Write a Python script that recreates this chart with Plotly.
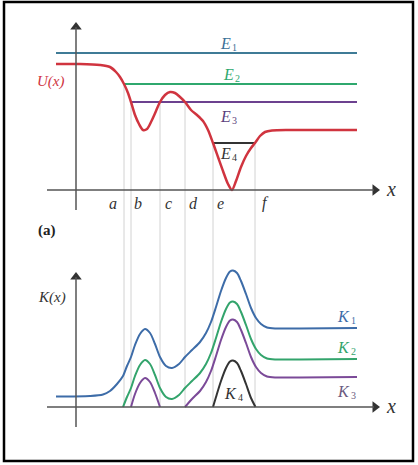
import plotly.graph_objects as go

# ---------------- data ----------------
# Potential energy U(x), top panel
x_U = [-2.0, 0.4, 2.4, 3.4, 4.0, 4.4, 4.8, 5.2, 5.5, 5.9, 6.3, 6.7, 7.1, 7.5, 8.0, 8.4,
       8.9, 9.4, 9.9, 10.4, 10.9, 11.5, 12.1, 12.7, 13.2, 13.7, 14.2, 14.7, 15.2, 15.6,
       16.0, 16.5, 17.0, 17.5, 17.9, 18.4, 18.9, 19.6, 21.4, 28.1]
U = [12.6, 12.6, 12.5, 12.3, 11.8, 11.3, 10.6, 9.7, 8.8, 7.5, 6.6, 6.0, 6.1, 6.8, 7.9, 8.8,
     9.5, 9.8, 9.7, 9.3, 8.8, 8.0, 7.5, 6.9, 6.0, 4.7, 3.3, 1.9, 0.6, 0.0,
     0.9, 2.3, 3.4, 4.2, 4.7, 5.4, 5.8, 5.95, 6.0, 6.0]

# Energy levels and their extents
E_names = ["1", "2", "3", "4"]
E_values = [13.7, 10.6, 8.8, 4.7]
E_start = [-2.0, 4.8, 5.5, 13.7]
E_end = [28.1, 28.1, 28.1, 17.9]

# Turning points a..f
tp_labels = ["a", "b", "c", "d", "e", "f"]
tp_x = [4.8, 5.5, 8.4, 10.9, 13.7, 17.9]
tp_level = [10.6, 8.8, 8.8, 8.8, 4.7, 4.7]
tp_label_x = [3.7, 6.2, 9.2, 11.7, 14.4, 18.9]

# Kinetic energies K(x), bottom panel
x_K1 = [-2.0, 1.4, 2.7, 3.4, 4.1, 4.7, 5.1, 5.5, 5.9, 6.4, 6.9, 7.4, 7.9, 8.4, 9.0, 9.6,
        10.3, 10.9, 11.6, 12.4, 13.0, 13.5, 14.0, 14.5, 15.0, 15.4, 15.7, 16.1, 16.5,
        17.0, 17.5, 18.0, 18.5, 19.1, 20.0, 22.4, 28.1]
K1 = [1.05, 1.1, 1.25, 1.6, 2.3, 3.1, 4.1, 5.0, 6.2, 7.3, 7.8, 7.4, 6.3, 5.0, 4.1, 3.9,
      4.3, 5.0, 5.7, 6.5, 7.4, 8.5, 10.0, 11.6, 12.9, 13.55, 13.65, 13.4, 12.6,
      11.3, 9.9, 8.9, 8.3, 7.95, 7.85, 7.85, 7.9]

x_K2 = [4.7, 5.1, 5.5, 5.9, 6.4, 6.9, 7.4, 7.9, 8.4, 9.0, 9.6, 10.3, 10.9, 11.6, 12.4,
        13.0, 13.5, 14.0, 14.5, 15.0, 15.4, 15.7, 16.1, 16.5, 17.0, 17.5, 18.0, 18.5,
        19.1, 20.0, 22.4, 28.1]
K2 = [0.0, 1.0, 1.9, 3.1, 4.2, 4.7, 4.3, 3.2, 1.9, 1.0, 0.8, 1.2, 1.9, 2.6, 3.4,
      4.3, 5.4, 6.9, 8.5, 9.8, 10.45, 10.55, 10.3, 9.5, 8.2, 6.8, 5.8, 5.2,
      4.85, 4.75, 4.75, 4.8]

x_K3 = [5.5, 5.9, 6.4, 6.9, 7.4, 7.9, 8.4, None,
        10.9, 11.6, 12.4, 13.0, 13.5, 14.0, 14.5, 15.0, 15.4, 15.7, 16.1, 16.5, 17.0,
        17.5, 18.0, 18.5, 19.1, 20.0, 22.4, 28.1]
K3 = [0.0, 1.3, 2.4, 2.9, 2.5, 1.4, 0.0, None,
      0.0, 0.8, 1.6, 2.5, 3.6, 5.1, 6.7, 8.0, 8.65, 8.75, 8.5, 7.7, 6.4,
      5.0, 4.0, 3.4, 3.05, 2.95, 2.95, 3.0]

x_K4 = [13.7, 14.0, 14.5, 15.0, 15.4, 15.7, 16.1, 16.5, 17.0, 17.5, 17.95]
K4 = [0.0, 1.0, 2.6, 3.9, 4.55, 4.65, 4.4, 3.6, 2.3, 0.9, 0.0]

# ---------------- styling ----------------
RED = "#d0343f"
E_colors = ["#3f7b96", "#2fa86e", "#6c418f", "#333333"]
K_colors = ["#3d6ca8", "#33a46c", "#7b4a98", "#333333"]
AXIS = "#555555"
SERIF = "'Liberation Serif', 'DejaVu Serif', serif"
OFF = 21.7          # vertical offset between the two panels (layout)
XR = [-7.6, 34.2]
YR = [-27.5, 19.0]

fig = go.Figure()

shapes = []
# guide lines (behind everything)
for xp, lev in zip(tp_x, tp_level):
    shapes.append(dict(type="line", xref="x", yref="y", x0=xp, x1=xp, y0=lev, y1=-OFF,
                       line=dict(color="#d2d2d2", width=1), layer="below"))

# axis lines
for yref, ytop in (("y", 16.3), ("y2", 13.0)):
    shapes.append(dict(type="line", xref="x", yref=yref, x0=-2.9, x1=29.8, y0=0, y1=0,
                       line=dict(color=AXIS, width=1.5)))
    shapes.append(dict(type="line", xref="x", yref=yref, x0=0, x1=0, y0=-2.0, y1=ytop,
                       line=dict(color=AXIS, width=1.5)))

# energy levels
for ev, xs, xe, col in zip(E_values, E_start, E_end, E_colors):
    fig.add_trace(go.Scatter(x=[xs, xe], y=[ev, ev], mode="lines",
                             line=dict(color=col, width=2), yaxis="y", hoverinfo="skip"))

# potential
fig.add_trace(go.Scatter(x=x_U, y=U, mode="lines",
                         line=dict(color=RED, width=2.5, shape="spline", smoothing=0.8),
                         yaxis="y", hoverinfo="skip"))

# kinetic energies
for xs, ks, col in zip([x_K1, x_K2, x_K3, x_K4], [K1, K2, K3, K4], K_colors):
    fig.add_trace(go.Scatter(x=xs, y=ks, mode="lines", connectgaps=False,
                             line=dict(color=col, width=2, shape="spline", smoothing=0.8),
                             yaxis="y2", hoverinfo="skip"))

# arrow heads
for ya in ("y", "y2"):
    fig.add_trace(go.Scatter(x=[29.9], y=[0], mode="markers", yaxis=ya, hoverinfo="skip",
                             marker=dict(symbol="triangle-right", size=10, color="#333333")))
fig.add_trace(go.Scatter(x=[0], y=[16.3], mode="markers", yaxis="y", hoverinfo="skip",
                         marker=dict(symbol="triangle-up", size=10, color="#333333")))
fig.add_trace(go.Scatter(x=[0], y=[13.0], mode="markers", yaxis="y2", hoverinfo="skip",
                         marker=dict(symbol="triangle-up", size=10, color="#333333")))

ann = []

def label(x, y, text, color, size=15, yref="y", xanchor="center", italic=True):
    return dict(x=x, y=y, xref="x", yref=yref, text=text, showarrow=False,
                font=dict(family=SERIF, size=size, color=color,
                          style="italic" if italic else "normal"),
                xanchor=xanchor, yanchor="middle")

def sub_label(x, y, main, sub, color, yref="y"):
    ann.append(label(x, y, main, color, 16, yref=yref, xanchor="right"))
    ann.append(label(x - 0.35, y - 0.45, sub, color, 10, yref=yref, xanchor="left", italic=False))

# E labels
E_label_pos = [(15.7, 14.7), (16.0, 11.6), (15.7, 7.4), (15.7, 3.7)]
E_label_col = ["#3b6f97", "#2fa86e", "#5b3f7c", "#333333"]
for name, (lx, ly), col in zip(E_names, E_label_pos, E_label_col):
    sub_label(lx, ly, "E", name, col)

ann.append(label(-2.6, 10.9, "U(x)", RED, 15))
for t, lx in zip(tp_labels, tp_label_x):
    ann.append(label(lx, -1.3, t, "#333333", 16))
ann.append(label(30.8, 0.1, "x", "#333333", 20, xanchor="left"))
ann.append(label(30.8, 0.1, "x", "#333333", 20, yref="y2", xanchor="left"))
ann.append(dict(x=-2.9, y=-4.0, xref="x", yref="y", text="(a)", showarrow=False,
                font=dict(family=SERIF, size=15, color="#222222", weight="bold")))

ann.append(label(-2.4, 11.0, "K(x)", "#333333", 15, yref="y2"))
K_label_pos = [(27.6, 9.1), (27.6, 6.0), (27.6, 1.6), (16.3, 1.4)]
K_label_col = ["#3d6ca8", "#33a46c", "#6a5a80", "#333333"]
for i, ((lx, ly), col) in enumerate(zip(K_label_pos, K_label_col)):
    sub_label(lx, ly, "K", str(i + 1), col, yref="y2")

# frame
shapes.append(dict(type="rect", xref="paper", yref="paper",
                   x0=4 / 418, x1=413 / 418, y0=1 - 461 / 465, y1=1 - 2 / 465,
                   line=dict(color="black", width=2.5)))

fig.update_layout(
    width=418, height=465, margin=dict(l=0, r=0, t=0, b=0),
    paper_bgcolor="white", plot_bgcolor="white", showlegend=False,
    xaxis=dict(range=XR, visible=False, domain=[0, 1]),
    yaxis=dict(range=YR, visible=False, domain=[0, 1]),
    yaxis2=dict(range=[YR[0] + OFF, YR[1] + OFF], visible=False, overlaying="y"),
    shapes=shapes, annotations=ann,
)

fig.write_html("out.html", config={"displayModeBar": False},
               post_script="document.body.style.margin='0';")
